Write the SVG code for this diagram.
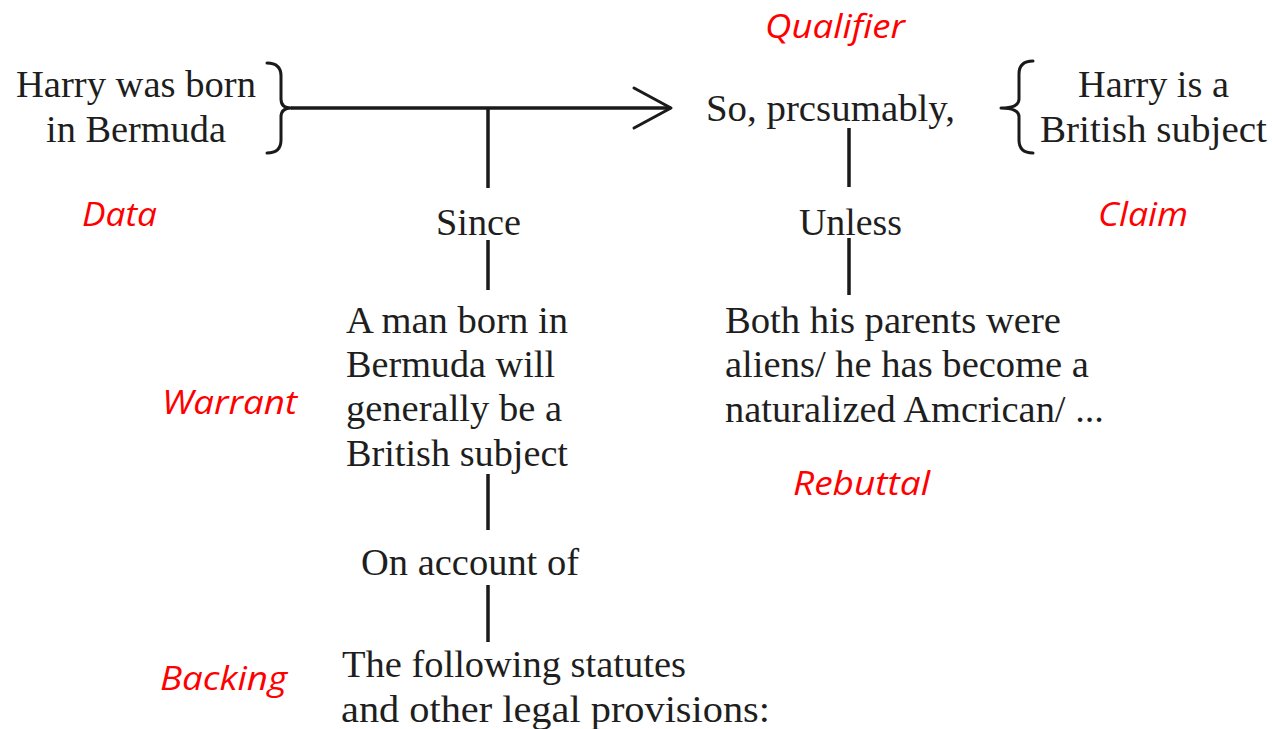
<svg xmlns="http://www.w3.org/2000/svg" width="1272" height="729" viewBox="0 0 1272 729">
  <style>
    .t { font-family: "Liberation Serif", Tinos, "Times New Roman", Times, serif; font-size: 38px; fill: #1e1e1e; }
    .lbl { font-family: "Open Sans", "Liberation Sans", sans-serif; font-style: italic; font-size: 32px; fill: #ff0000; }
    .ln { stroke: #1a1a1a; stroke-width: 3.5; fill: none; stroke-linecap: butt; }
    .br { stroke: #1a1a1a; stroke-width: 3; fill: none; stroke-linecap: round; stroke-linejoin: round; }
  </style>
  <rect width="1272" height="729" fill="#ffffff"/>

  <!-- connectors -->
  <g id="connectors">
    <line class="ln" x1="291" y1="108" x2="671" y2="108"/>
    <polyline class="br" stroke-width="3.5" points="634,88 671,108 634,128"/>
    <line class="ln" x1="488" y1="108" x2="488" y2="188"/>
    <line class="ln" x1="488" y1="240" x2="488" y2="290"/>
    <line class="ln" x1="488" y1="474" x2="488" y2="530"/>
    <line class="ln" x1="488" y1="585" x2="488" y2="642"/>
    <line class="ln" x1="849" y1="128" x2="849" y2="187"/>
    <line class="ln" x1="849" y1="238" x2="849" y2="295"/>
  </g>

  <!-- data -->
  <g id="data">
    <text class="t" x="16" y="97" textLength="240" lengthAdjust="spacingAndGlyphs">Harry was born</text>
    <text class="t" x="46" y="142" textLength="180" lengthAdjust="spacingAndGlyphs">in Bermuda</text>
    <path class="br" d="M267,63 Q281,63 281,76 L281,99 Q281,108 291,108 Q281,108 281,117 L281,140 Q281,153 267,153"/>
  </g>

  <!-- qualifier -->
  <g id="qualifier">
    <text class="t" x="706" y="121" textLength="249" lengthAdjust="spacingAndGlyphs">So, prcsumably,</text>
  </g>

  <!-- claim -->
  <g id="claim">
    <path class="br" d="M1033,61 Q1019,61 1019,74 L1019,99 Q1019,108 1001,108 Q1019,108 1019,117 L1019,140 Q1019,153 1033,153"/>
    <text class="t" x="1078" y="97" textLength="151" lengthAdjust="spacingAndGlyphs">Harry is a</text>
    <text class="t" x="1040" y="142" textLength="227" lengthAdjust="spacingAndGlyphs">British subject</text>
  </g>

  <!-- warrant -->
  <g id="warrant">
    <text class="t" x="436" y="235" textLength="85" lengthAdjust="spacingAndGlyphs">Since</text>
    <text class="t" x="346" y="333" textLength="222" lengthAdjust="spacingAndGlyphs">A man born in</text>
    <text class="t" x="346" y="377" textLength="209" lengthAdjust="spacingAndGlyphs">Bermuda will</text>
    <text class="t" x="346" y="421" textLength="216" lengthAdjust="spacingAndGlyphs">generally be a</text>
    <text class="t" x="346" y="466" textLength="222" lengthAdjust="spacingAndGlyphs">British subject</text>
  </g>

  <!-- rebuttal -->
  <g id="rebuttal">
    <text class="t" x="799" y="235" textLength="103" lengthAdjust="spacingAndGlyphs">Unless</text>
    <text class="t" x="725" y="333" textLength="336" lengthAdjust="spacingAndGlyphs">Both his parents were</text>
    <text class="t" x="725" y="377" textLength="364" lengthAdjust="spacingAndGlyphs">aliens/ he has become a</text>
    <text class="t" x="725" y="422" textLength="379" lengthAdjust="spacingAndGlyphs">naturalized Amcrican/ ...</text>
  </g>

  <!-- backing -->
  <g id="backing">
    <text class="t" x="361" y="575" textLength="218" lengthAdjust="spacingAndGlyphs">On account of</text>
    <text class="t" x="342" y="677" textLength="344" lengthAdjust="spacingAndGlyphs">The following statutes</text>
    <text class="t" x="341" y="722" textLength="429" lengthAdjust="spacingAndGlyphs">and other legal provisions:</text>
  </g>

  <!-- role labels -->
  <g id="labels">
    <text class="lbl" x="765" y="38" textLength="140" lengthAdjust="spacingAndGlyphs">Qualifier</text>
    <text class="lbl" x="82" y="226" textLength="75" lengthAdjust="spacingAndGlyphs">Data</text>
    <text class="lbl" x="1098" y="226" textLength="90" lengthAdjust="spacingAndGlyphs">Claim</text>
    <text class="lbl" x="162" y="414" textLength="135" lengthAdjust="spacingAndGlyphs">Warrant</text>
    <text class="lbl" x="793" y="495" textLength="137" lengthAdjust="spacingAndGlyphs">Rebuttal</text>
    <text class="lbl" x="160" y="690" textLength="127" lengthAdjust="spacingAndGlyphs">Backing</text>
  </g>
</svg>
